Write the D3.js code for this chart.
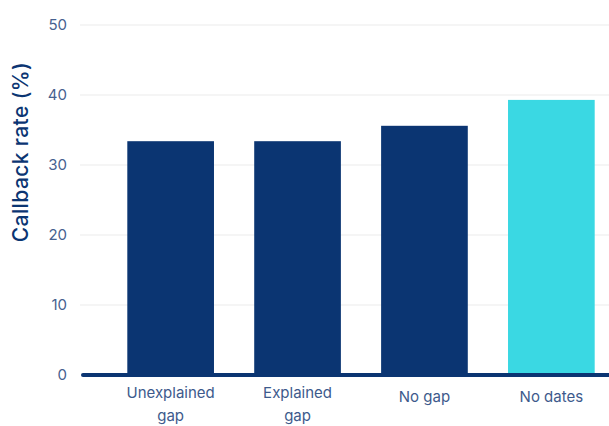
<!DOCTYPE html>
<html>
<head>
<meta charset="utf-8">
<script src="https://cdn.jsdelivr.net/npm/d3@7"></script>
<style>
  html, body { margin: 0; padding: 0; background: #ffffff; }
  svg { display: block; }
  text { font-family: "Inter", "Noto Sans", sans-serif; }
</style>
</head>
<body>
<svg id="chart" width="609" height="426"></svg>
<script>
const categories = [["Unexplained", "gap"], ["Explained", "gap"], ["No gap"], ["No dates"]];
const callbackRates = [33.4, 33.4, 35.6, 39.3];
const barColors = ["#0b3572", "#0b3572", "#0b3572", "#3ad8e3"];
const yTicks = [0, 10, 20, 30, 40, 50];
const yTitle = "Callback rate (%)";

const svg = d3.select("#chart");
const W = 609, H = 426;

const y = d3.scaleLinear().domain([0, 50]).range([375, 25]);
const x = d3.scaleBand()
  .domain(d3.range(categories.length))
  .range([107, 615])
  .paddingInner(0.317)
  .paddingOuter(0.16);

// gridlines
svg.append("g")
  .selectAll("line")
  .data(yTicks.filter(d => d > 0))
  .join("line")
  .attr("x1", 80).attr("x2", W)
  .attr("y1", d => y(d)).attr("y2", d => y(d))
  .attr("stroke", "#ebebeb").attr("stroke-width", 1);

// y axis via d3 axis (labels only)
const yAxis = svg.append("g")
  .attr("transform", "translate(67,0)")
  .call(d3.axisLeft(y).tickValues(yTicks).tickSize(0).tickPadding(0));
yAxis.select(".domain").remove();
yAxis.selectAll("text")
  .attr("fill", "#46618f")
  .style("font-size", "15px")
  .style("font-family", "Inter, 'Noto Sans', sans-serif");

// bars
svg.append("g")
  .selectAll("rect")
  .data(callbackRates)
  .join("rect")
  .attr("x", (d, i) => x(i))
  .attr("width", x.bandwidth())
  .attr("y", d => y(d))
  .attr("height", d => y(0) - y(d))
  .attr("fill", (d, i) => barColors[i]);

// baseline
svg.append("line")
  .attr("x1", 83).attr("x2", W + 5)
  .attr("y1", y(0)).attr("y2", y(0))
  .attr("stroke", "#0b3572").attr("stroke-width", 4)
  .attr("stroke-linecap", "round");

// x labels
const xl = svg.append("g");
categories.forEach((lines, i) => {
  const cx = x(i) + x.bandwidth() / 2;
  const t = xl.append("text")
    .attr("text-anchor", "middle")
    .attr("fill", "#3d5a8c")
    .style("font-size", "15px");
  if (lines.length === 1) {
    t.append("tspan").attr("x", cx).attr("y", 402).text(lines[0]);
  } else {
    lines.forEach((ln, j) => {
      t.append("tspan").attr("x", cx).attr("y", 398 + j * 23).text(ln);
    });
  }
});

// y title
svg.append("text")
  .attr("transform", "translate(28,152) rotate(-90)")
  .attr("text-anchor", "middle")
  .attr("fill", "#0b3572")
  .style("font-size", "21px")
  .style("font-weight", "500")
  .style("letter-spacing", "0.4px")
  .text(yTitle);
</script>
</body>
</html>
